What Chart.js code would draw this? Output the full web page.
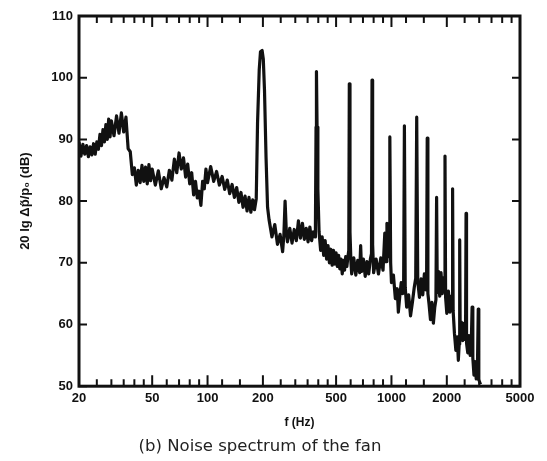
<!DOCTYPE html>
<html>
<head>
<meta charset="utf-8">
<script src="https://cdn.jsdelivr.net/npm/chart.js@4"></script>
<style>
  body { margin: 0; background: #fff; }
  #wrap { width: 547px; height: 461px; }
</style>
</head>
<body>
<div id="wrap"><canvas id="spectrumChart"></canvas></div>
<script>
const freqHz = [
  20, 20.5, 21, 21.5, 22, 22.5, 23, 23.5, 24, 24.5, 25, 25.5, 26, 26.5, 27, 27.5, 28, 28.5, 29, 29.5,
  30, 31, 32, 33, 34, 35, 36, 37, 38, 39, 40, 41, 42, 43, 44, 45, 46, 47, 48, 49,
  50, 52, 54, 56, 58, 60, 62, 64, 66, 68, 70, 72, 74, 76, 78, 80, 82, 84, 86, 88, 90, 92, 94, 96, 98,
  100, 104, 108, 112, 116, 120, 124, 128, 132, 136, 140, 144, 148, 152, 156, 160, 164, 168, 172, 176, 180, 184,
  187, 191, 194, 198, 201, 204, 208, 212,
  216, 224, 232, 240, 248, 256, 260, 264, 268, 272, 280, 288, 296, 304, 312, 320, 328, 336, 344, 352, 360, 368, 376, 384,
  386, 389, 391, 394, 398, 404,
  412, 420, 428, 436, 444, 452, 460, 468, 476, 484, 492, 500, 508, 516, 524, 532, 540, 548, 556, 564, 572, 580,
  586, 590, 595, 602,
  608, 624, 640, 656, 672, 680, 688, 704, 720, 736, 752, 768, 779, 784, 790,
  800, 825, 850, 875, 900, 920, 935, 945, 958, 970, 980, 990,
  1000, 1025, 1050, 1075, 1090, 1110, 1130, 1150, 1165, 1176, 1188,
  1210, 1240, 1270, 1300, 1330, 1355, 1372, 1390,
  1420, 1450, 1480, 1510, 1540, 1553, 1565, 1578,
  1600, 1630, 1660, 1690, 1720, 1745, 1760, 1775,
  1800, 1830, 1860, 1890, 1920, 1940, 1955, 1970,
  2000, 2040, 2080, 2110, 2135, 2150, 2165,
  2200, 2240, 2280, 2310, 2335, 2350, 2365,
  2400, 2440, 2480, 2510, 2530, 2545, 2560,
  2600, 2640, 2680, 2720, 2745, 2770,
  2810, 2850, 2890, 2935, 2965, 2985, 3050
];

const levelDb = [
  89.6, 87.3, 89.2, 87.6, 89.0, 87.2, 88.8, 87.5, 89.3, 87.6, 89.6, 88.4, 90.8, 89.0, 91.6, 89.6, 92.4, 90.0, 93.3, 90.4,
  93.0, 90.6, 93.8, 91.0, 94.3, 91.2, 93.6, 88.5, 88.0, 84.3, 85.4, 82.6, 85.0, 83.0, 85.8, 83.2, 85.5, 82.8, 85.9, 83.3,
  85.2, 82.6, 84.9, 82.0, 83.8, 82.3, 85.0, 83.4, 86.8, 84.6, 87.8, 85.2, 87.0, 83.9, 86.0, 82.8, 84.6, 81.0, 83.2, 80.5, 81.6, 79.3, 83.2, 82.0, 85.2,
  83.0, 85.6, 83.2, 84.8, 82.6, 84.0, 81.9, 83.4, 81.2, 82.7, 80.6, 82.2, 79.8, 81.4, 79.0, 80.8, 78.4, 80.6, 78.2, 80.2, 78.6, 80.4,
  92.6, 101.3, 104.2, 104.4, 103.0, 98.0, 87.1, 79.0,
  77.0, 74.2, 76.2, 73.0, 74.6, 71.8, 74.5, 80.0, 75.2, 73.4, 75.6, 73.2, 75.4, 73.6, 76.8, 74.0, 76.4, 73.8, 75.6, 73.4, 75.8, 73.6, 75.0, 74.2,
  75.5, 92.0, 101.0, 92.0, 82.0, 75.0,
  72.0, 74.2, 71.2, 73.6, 70.6, 72.8, 70.0, 72.2, 69.6, 72.0, 69.8, 71.6, 69.4, 71.2, 69.0, 70.6, 68.2, 70.4, 68.8, 71.0, 69.4, 71.0,
  72.0, 99.0, 75.0, 70.2,
  68.2, 70.8, 68.0, 70.4, 68.4, 72.8, 68.6, 70.6, 67.8, 70.2, 68.2, 70.6, 71.5, 99.6, 73.0,
  68.4, 70.6, 68.2, 70.8, 68.8, 74.8, 70.2, 76.4, 71.0, 72.0, 90.4, 70.0,
  66.8, 68.0, 64.2, 65.8, 62.0, 64.6, 66.8, 65.0, 67.0, 92.2, 66.0,
  62.8, 64.8, 61.4, 63.6, 66.0, 67.5, 93.6, 67.0,
  64.4, 67.4, 64.8, 68.2, 65.6, 67.5, 90.2, 65.0,
  63.4, 60.8, 63.6, 60.2, 62.8, 64.0, 80.6, 65.2,
  68.6, 64.6, 68.4, 65.0, 67.6, 65.5, 87.3, 64.4,
  61.8, 65.4, 62.0, 64.6, 63.0, 82.0, 62.2,
  58.6, 55.8, 58.0, 54.2, 56.8, 73.7, 58.0,
  60.4, 57.4, 60.2, 57.6, 59.5, 78.0, 57.0,
  55.4, 58.2, 55.0, 57.6, 62.8, 54.6,
  51.8, 54.0, 51.2, 53.2, 62.5, 51.0, 50.3
];

const xTickValues = [20, 25, 30, 35, 40, 45, 50, 60, 70, 80, 90, 100, 120, 150, 200, 250, 300, 350, 400, 450,
  500, 600, 700, 800, 900, 1000, 1200, 1500, 2000, 2500, 3000, 3500, 4000, 4500, 5000];
const xLabelValues = [20, 50, 100, 200, 500, 1000, 2000, 5000];
const yTickValues = [50, 60, 70, 80, 90, 100, 110];

const tickFont = { family: "'Liberation Sans Narrow', 'Liberation Sans', sans-serif", size: 13, weight: "bold" };

// marco y marcas hacia dentro
const framePlugin = {
  id: "frame",
  afterDatasetsDraw(chart) {
    const { ctx, chartArea: a, scales } = chart;
    ctx.save();
    ctx.strokeStyle = "#111";
    ctx.lineWidth = 3;
    ctx.strokeRect(a.left, a.top, a.right - a.left, a.bottom - a.top);
    ctx.lineWidth = 2;
    ctx.beginPath();
    xTickValues.forEach(v => {
      const x = scales.x.getPixelForValue(v);
      const len = xLabelValues.includes(v) ? 11 : 7;
      ctx.moveTo(x, a.bottom); ctx.lineTo(x, a.bottom - len);
      ctx.moveTo(x, a.top); ctx.lineTo(x, a.top + len);
    });
    yTickValues.forEach(v => {
      const y = scales.y.getPixelForValue(v);
      ctx.moveTo(a.left, y); ctx.lineTo(a.left + 8, y);
      ctx.moveTo(a.right, y); ctx.lineTo(a.right - 8, y);
    });
    ctx.stroke();
    ctx.restore();
  }
};

new Chart(document.getElementById("spectrumChart"), {
  type: "line",
  data: {
    datasets: [{
      data: freqHz.map((f, i) => ({ x: f, y: levelDb[i] })),
      borderColor: "#111",
      borderWidth: 3.2,
      borderJoinStyle: "round",
      pointRadius: 0,
      tension: 0,
      fill: false
    }]
  },
  options: {
    responsive: true,
    maintainAspectRatio: false,
    animation: false,
    devicePixelRatio: 1,
    layout: { padding: { top: 16, right: 27, bottom: 0, left: 0 } },
    plugins: {
      legend: { display: false },
      tooltip: { enabled: false },
      title: {
        display: true,
        position: "bottom",
        text: "(b) Noise spectrum of the fan",
        color: "#222",
        font: { family: "'DejaVu Sans', sans-serif", size: 16.5, weight: "normal" },
        padding: { top: 4, bottom: 4 }
      }
    },
    scales: {
      x: {
        type: "logarithmic",
        min: 20,
        max: 5000,
        afterBuildTicks: s => { s.ticks = xTickValues.map(v => ({ value: v })); },
        afterFit: s => { s.height = 47; },
        grid: { display: false, drawTicks: false },
        border: { display: false },
        ticks: {
          autoSkip: false,
          maxRotation: 0,
          padding: 4,
          color: "#111",
          font: tickFont,
          callback: v => xLabelValues.includes(v) ? String(v) : ""
        },
        title: {
          display: true,
          text: "f (Hz)",
          color: "#111",
          font: { family: "'Liberation Sans', sans-serif", size: 12, weight: "bold" },
          padding: { top: 0, bottom: 3 }
        }
      },
      y: {
        min: 50,
        max: 110,
        afterBuildTicks: s => { s.ticks = yTickValues.map(v => ({ value: v })); },
        afterFit: s => { s.width = 79; },
        grid: { display: false, drawTicks: false },
        border: { display: false },
        ticks: { padding: 6, color: "#111", font: tickFont },
        title: {
          display: true,
          text: "20 lg Δp̃/p₀ (dB)",
          color: "#111",
          font: { family: "'Liberation Sans', sans-serif", size: 13, weight: "bold" },
          padding: { top: 18, bottom: 0 }
        }
      }
    }
  },
  plugins: [framePlugin]
});
</script>
</body>
</html>
